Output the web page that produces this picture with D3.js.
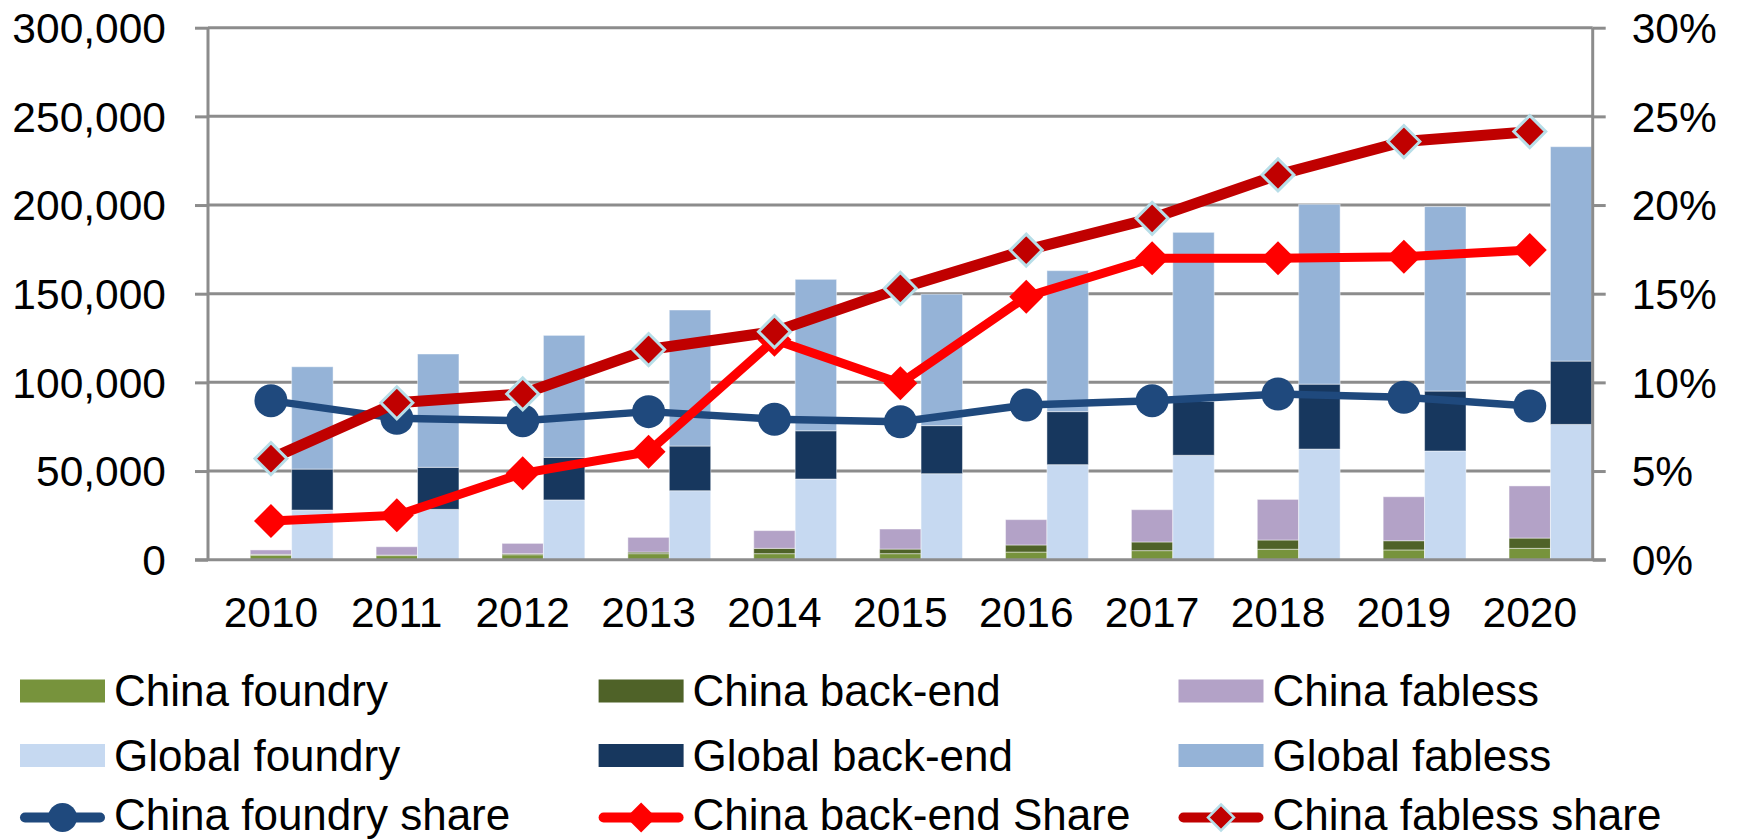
<!DOCTYPE html>
<html>
<head>
<meta charset="utf-8">
<script src="https://cdn.jsdelivr.net/npm/d3@7"></script>
<style>
  html, body { margin: 0; padding: 0; background: #ffffff; }
  svg { display: block; }
  text { font-family: "Liberation Sans", Arial, sans-serif; fill: #000; }
</style>
</head>
<body>
<svg id="chart" width="1738" height="840"></svg>
<script>
// ---------- DATA ----------
const years = ["2010","2011","2012","2013","2014","2015","2016","2017","2018","2019","2020"];

// stacked bar segments (US$ million)
const chinaFoundry  = [2500, 2300, 2800, 3400, 3400, 3400, 4300, 5100, 5900, 5500, 6400];
const chinaBackEnd  = [500, 300, 600, 900, 3000, 2600, 4000, 4900, 5200, 5200, 5800];
const chinaFabless  = [2500, 4700, 5800, 8300, 10000, 11300, 14300, 18200, 22900, 24800, 29400];
const globalFoundry = [28000, 28400, 33700, 38900, 45500, 48500, 53600, 58900, 62400, 61300, 76300];
const globalBackEnd = [23100, 23700, 24000, 25200, 27200, 27100, 29900, 30400, 36600, 33800, 35700];
const globalFabless = [57700, 63900, 68800, 76700, 85400, 74100, 79500, 95300, 101400, 104000, 120900];

// shares (right axis)
const chinaFoundryShare = [0.0897, 0.0797, 0.0784, 0.0835, 0.0792, 0.0778, 0.0872, 0.0897, 0.0934, 0.0916, 0.0867];
const chinaBackEndShare = [0.0218, 0.0250, 0.0487, 0.0609, 0.1240, 0.0995, 0.1483, 0.1700, 0.1700, 0.1709, 0.1746];
const chinaFablessShare = [0.0570, 0.0885, 0.0935, 0.1185, 0.1286, 0.1530, 0.1746, 0.1925, 0.2170, 0.2358, 0.2414];

const leftTicks  = [0, 50000, 100000, 150000, 200000, 250000, 300000];
const rightTicks = [0, 0.05, 0.10, 0.15, 0.20, 0.25, 0.30];

const legendItems = [
  {name: "China foundry", type: "rect", color: "#77933c"},
  {name: "China back-end", type: "rect", color: "#4f6228"},
  {name: "China fabless", type: "rect", color: "#b3a2c7"},
  {name: "Global foundry", type: "rect", color: "#c6d9f1"},
  {name: "Global back-end", type: "rect", color: "#17375e"},
  {name: "Global fabless", type: "rect", color: "#95b3d7"},
  {name: "China foundry share", type: "circle", color: "#1f497d"},
  {name: "China back-end Share", type: "diamond", color: "#ff0000"},
  {name: "China fabless share", type: "diamond2", color: "#c00000"}
];

// ---------- LAYOUT ----------
const svg = d3.select("#chart");
const L = 208, R = 1592.7, T = 27.7, B = 559.7;
const FS = 42.5;
const LFS = 44;
const gridColor = "#8c8c8c";

const x = d3.scaleBand().domain(years).range([L, R]).paddingInner(0).paddingOuter(0);
const y = d3.scaleLinear().domain([0, 300000]).range([B, T]);
const yR = d3.scaleLinear().domain([0, 0.30]).range([B, T]);
const barW = x.bandwidth() * 0.329;

// gridlines
svg.append("g").selectAll("line").data(leftTicks.filter(d => d > 0)).join("line")
  .attr("x1", L).attr("x2", R)
  .attr("y1", d => y(d)).attr("y2", d => y(d))
  .attr("stroke", gridColor).attr("stroke-width", 3);

// stacked bars
function stackBars(segs, colors, offset) {
  const g = svg.append("g");
  years.forEach((yr, i) => {
    let base = 0;
    segs.forEach((arr, k) => {
      const v = arr[i];
      g.append("rect")
        .attr("x", x(yr) + x.bandwidth() / 2 + offset)
        .attr("width", barW)
        .attr("y", y(base + v))
        .attr("height", y(base) - y(base + v))
        .attr("fill", colors[k])
        .attr("stroke", "rgba(255,255,255,0.45)")
        .attr("stroke-width", 1);
      base += v;
    });
  });
}
stackBars([chinaFoundry, chinaBackEnd, chinaFabless], ["#77933c", "#4f6228", "#b3a2c7"], -barW / 2);
stackBars([globalFoundry, globalBackEnd, globalFabless], ["#c6d9f1", "#17375e", "#95b3d7"], barW / 2);

// left axis
const axL = svg.append("g").attr("transform", `translate(${L},0)`)
  .call(d3.axisLeft(y).tickValues(leftTicks).tickFormat(d3.format(",")).tickSize(13).tickPadding(29));
axL.select(".domain").attr("stroke", gridColor).attr("stroke-width", 3).attr("d", `M0,${T}V${B}`);
axL.selectAll(".tick line").attr("stroke", gridColor).attr("stroke-width", 3);
axL.selectAll(".tick text").style("font-size", FS + "px").attr("dy", "0.35em").style("fill", "#000");

// right axis
const axR = svg.append("g").attr("transform", `translate(${R},0)`)
  .call(d3.axisRight(yR).tickValues(rightTicks).tickFormat(d3.format(".0%")).tickSize(13).tickPadding(26));
axR.select(".domain").attr("stroke", gridColor).attr("stroke-width", 3).attr("d", `M0,${T}V${B}`);
axR.selectAll(".tick line").attr("stroke", gridColor).attr("stroke-width", 3);
axR.selectAll(".tick text").style("font-size", FS + "px").attr("dy", "0.35em").style("fill", "#000");

// bottom axis
const axB = svg.append("g").attr("transform", `translate(0,${B})`)
  .call(d3.axisBottom(x).tickSize(0).tickPadding(0));
axB.select(".domain").attr("stroke", gridColor).attr("stroke-width", 3).attr("d", `M${L - 13},0H${R + 13}`);
axB.selectAll(".tick text").style("font-size", FS + "px").attr("y", 67.5).attr("dy", null).style("fill", "#000");

// lines
const cx = (d, i) => x(years[i]) + x.bandwidth() / 2;
function drawLine(vals, color, width) {
  const line = d3.line().x((d, i) => cx(d, i)).y(d => yR(d));
  svg.append("path").datum(vals).attr("d", line)
    .attr("fill", "none").attr("stroke", color).attr("stroke-width", width)
    .attr("stroke-linejoin", "round").attr("stroke-linecap", "round");
}
function diamondPath(cxv, cyv, h) {
  return `M${cxv},${cyv - h}L${cxv + h},${cyv}L${cxv},${cyv + h}L${cxv - h},${cyv}Z`;
}

// foundry share
drawLine(chinaFoundryShare, "#1f497d", 7.5);
svg.append("g").selectAll("circle").data(chinaFoundryShare).join("circle")
  .attr("cx", cx).attr("cy", d => yR(d)).attr("r", 16.5).attr("fill", "#1f497d");

// back-end share
drawLine(chinaBackEndShare, "#ff0000", 9);
svg.append("g").selectAll("path").data(chinaBackEndShare).join("path")
  .attr("d", (d, i) => diamondPath(cx(d, i), yR(d), 17)).attr("fill", "#ff0000");

// fabless share
drawLine(chinaFablessShare, "#c00000", 11);
svg.append("g").selectAll("path").data(chinaFablessShare).join("path")
  .attr("d", (d, i) => diamondPath(cx(d, i), yR(d), 16)).attr("fill", "#c00000")
  .attr("stroke", "#b7dee8").attr("stroke-width", 3);

// legend
const colX = [20, 598.6, 1178.5];
const rowY = [691, 755.5, 817.5];
const lg = svg.append("g");
legendItems.forEach((it, idx) => {
  const c = idx % 3, r = Math.floor(idx / 3);
  const x0 = colX[c], yc = rowY[r];
  if (it.type === "rect") {
    lg.append("rect").attr("x", x0).attr("y", yc - 11.5).attr("width", 85).attr("height", 23).attr("fill", it.color);
  } else {
    lg.append("line").attr("x1", x0 + 5).attr("x2", x0 + 80).attr("y1", yc).attr("y2", yc)
      .attr("stroke", it.color).attr("stroke-width", 10).attr("stroke-linecap", "round");
    const mx = x0 + 42.5;
    if (it.type === "circle") {
      lg.append("circle").attr("cx", mx).attr("cy", yc).attr("r", 14.5).attr("fill", it.color);
    } else if (it.type === "diamond") {
      lg.append("path").attr("d", diamondPath(mx, yc, 15)).attr("fill", it.color);
    } else {
      lg.append("path").attr("d", diamondPath(mx, yc, 13)).attr("fill", it.color)
        .attr("stroke", "#b7dee8").attr("stroke-width", 2.5);
    }
  }
  const ty = r === 2 ? Math.min(yc + 15, 830) : yc + 15;
  lg.append("text").attr("x", x0 + 94).attr("y", ty)
    .style("font-size", LFS + "px").text(it.name);
});
</script>
</body>
</html>
